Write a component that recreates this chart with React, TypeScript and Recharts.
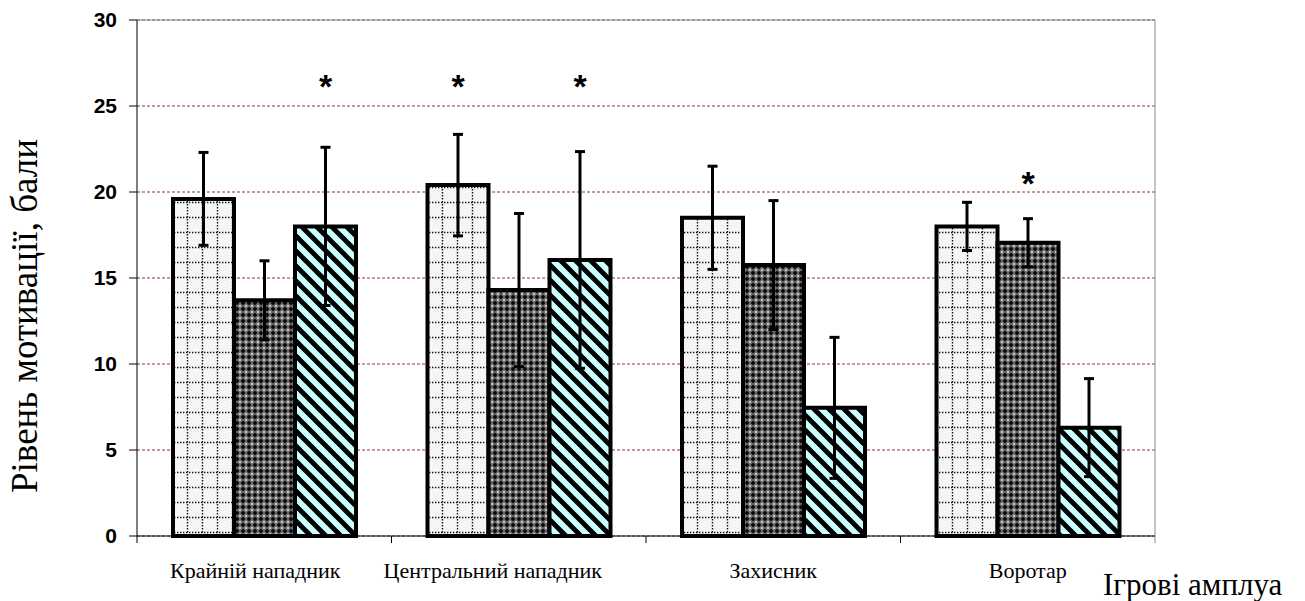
import { Bar, BarChart, CartesianGrid, ErrorBar, Label, LabelList, ReferenceLine, XAxis, YAxis } from "recharts"

const categories = ["Крайній нападник", "Центральний нападник", "Захисник", "Воротар"]

const seriesA = [19.6, 20.4, 18.5, 18.0]
const errorsA = [2.7, 2.95, 3.0, 1.4]
const seriesB = [13.7, 14.3, 15.75, 17.05]
const errorsB = [2.3, 4.45, 3.75, 1.4]
const seriesC = [18.0, 16.05, 7.45, 6.3]
const errorsC = [4.6, 6.3, 4.1, 2.85]

// height (in chart units) of the significance marks, null = no mark
const starsA = [null, 26.6, null, null]
const starsB = [null, null, null, 21.0]
const starsC = [26.6, 26.6, null, null]

const yTicks = [0, 5, 10, 15, 20, 25, 30]

const data = categories.map((name, i) => ({
  name,
  a: seriesA[i],
  aErr: errorsA[i],
  b: seriesB[i],
  bErr: errorsB[i],
  c: seriesC[i],
  cErr: errorsC[i],
}))

const W = 1305
const H = 601
const LEFT = 137
const RIGHT = 150
const TOP = 20
const BOTTOM = 65
const PLOT_W = W - LEFT - RIGHT
const PLOT_BOTTOM = H - BOTTOM
const BAND = PLOT_W / categories.length
// the original layout nudges the two long labels to the left
const LABEL_NUDGE = [-9, -26, 0, 0]

const serif = "'Liberation Serif', 'Times New Roman', serif"
const sans = "'Liberation Sans', Arial, sans-serif"

function CategoryTick(props: any) {
  const { x, payload, index } = props
  const last = index === categories.length - 1
  return (
    <g>
      <line x1={x - BAND / 2} x2={x - BAND / 2} y1={PLOT_BOTTOM} y2={PLOT_BOTTOM + 7} stroke="#000" />
      {last && <line x1={x + BAND / 2} x2={x + BAND / 2} y1={PLOT_BOTTOM} y2={PLOT_BOTTOM + 7} stroke="#888" />}
      <text
        x={x + (LABEL_NUDGE[index] ?? 0)}
        y={PLOT_BOTTOM + 42}
        textAnchor="middle"
        fontFamily={serif}
        fontSize={22}
        fill="#000"
      >
        {payload.value}
      </text>
    </g>
  )
}

const starLabel = (values: number[], stars: (number | null)[]) => (props: any) => {
  const { index } = props
  const vb = props.viewBox ?? props
  const level = stars[index]
  if (level == null || vb == null) return null
  const bottom = vb.y + vb.height
  const perUnit = vb.height / values[index]
  const cy = bottom - level * perUnit
  return (
    <text x={vb.x + vb.width / 2} y={cy + 20} textAnchor="middle" fontFamily={sans} fontWeight="bold" fontSize={34} fill="#000">
      *
    </text>
  )
}

export default function App() {
  return (
    <div style={{ position: "absolute", left: 0, top: 0, background: "#fff" }}>
      <BarChart
        width={W}
        height={H}
        data={data}
        margin={{ top: TOP, right: 0, bottom: 0, left: 0 }}
        barCategoryGap={36}
        barGap={0}
      >
        <defs>
          <pattern id="patGrid" patternUnits="userSpaceOnUse" width={15} height={15}>
            <rect width={15} height={15} fill="#f5f5f5" />
            <path d="M7.5,0 V15 M0,7.5 H15" stroke="#111" strokeWidth={1.4} strokeDasharray="1.4 1.6" />
          </pattern>
          <pattern id="patCheck" patternUnits="userSpaceOnUse" width={6} height={6}>
            <rect width={6} height={6} fill="#707070" />
            <path d="M3,0.6 L5.4,3 L3,5.4 L0.6,3 Z" fill="#0a0a0a" />
            <circle cx={0} cy={0} r={1} fill="#e0e0e0" />
            <circle cx={6} cy={0} r={1} fill="#e0e0e0" />
            <circle cx={0} cy={6} r={1} fill="#e0e0e0" />
            <circle cx={6} cy={6} r={1} fill="#e0e0e0" />
          </pattern>
          <pattern id="patStripe" patternUnits="userSpaceOnUse" width={15} height={15}>
            <rect width={15} height={15} fill="#ccffff" />
            <path d="M-4,-4 L19,19 M-4,11 L4,19 M11,-4 L19,4" stroke="#000" strokeWidth={4.8} />
          </pattern>
        </defs>
        <CartesianGrid vertical={false} stroke="#993333" strokeDasharray="3 2" />
        <ReferenceLine y={30} stroke="#8c8c8c" />
        <XAxis
          dataKey="name"
          height={BOTTOM}
          axisLine={{ stroke: "#000" }}
          tickLine={false}
          tick={<CategoryTick />}
          interval={0}
          label={
            <Label
              content={() => (
                <text x={1103} y={595} fontFamily={serif} fontSize={31} fill="#000">
                  Ігрові амплуа
                </text>
              )}
            />
          }
        />
        <YAxis
          width={LEFT}
          domain={[0, 30]}
          ticks={yTicks}
          interval={0}
          axisLine={{ stroke: "#000" }}
          tickLine={{ stroke: "#000" }}
          tickSize={8}
          tickMargin={12}
          tick={{ fontFamily: sans, fontSize: 21, fontWeight: "bold", fill: "#000" }}
          label={
            <Label
              content={() => (
                <text
                  transform="translate(37,316) rotate(-90)"
                  textAnchor="middle"
                  fontFamily={serif}
                  fontSize={37}
                  fill="#000"
                >
                  Рівень мотивації, бали
                </text>
              )}
            />
          }
        />
        <YAxis yAxisId="r" orientation="right" width={RIGHT} tick={false} tickLine={false} axisLine={{ stroke: "#8c8c8c" }} />
        <Bar dataKey="a" fill="url(#patGrid)" stroke="#000" strokeWidth={4} isAnimationActive={false}>
          <ErrorBar dataKey="aErr" width={5} stroke="#000" strokeWidth={3} direction="y" />
          <LabelList dataKey="a" content={starLabel(seriesA, starsA)} />
        </Bar>
        <Bar dataKey="b" fill="url(#patCheck)" stroke="#000" strokeWidth={4} isAnimationActive={false}>
          <ErrorBar dataKey="bErr" width={5} stroke="#000" strokeWidth={3} direction="y" />
          <LabelList dataKey="b" content={starLabel(seriesB, starsB)} />
        </Bar>
        <Bar dataKey="c" fill="url(#patStripe)" stroke="#000" strokeWidth={4} isAnimationActive={false}>
          <ErrorBar dataKey="cErr" width={5} stroke="#000" strokeWidth={3} direction="y" />
          <LabelList dataKey="c" content={starLabel(seriesC, starsC)} />
        </Bar>
      </BarChart>
    </div>
  )
}
